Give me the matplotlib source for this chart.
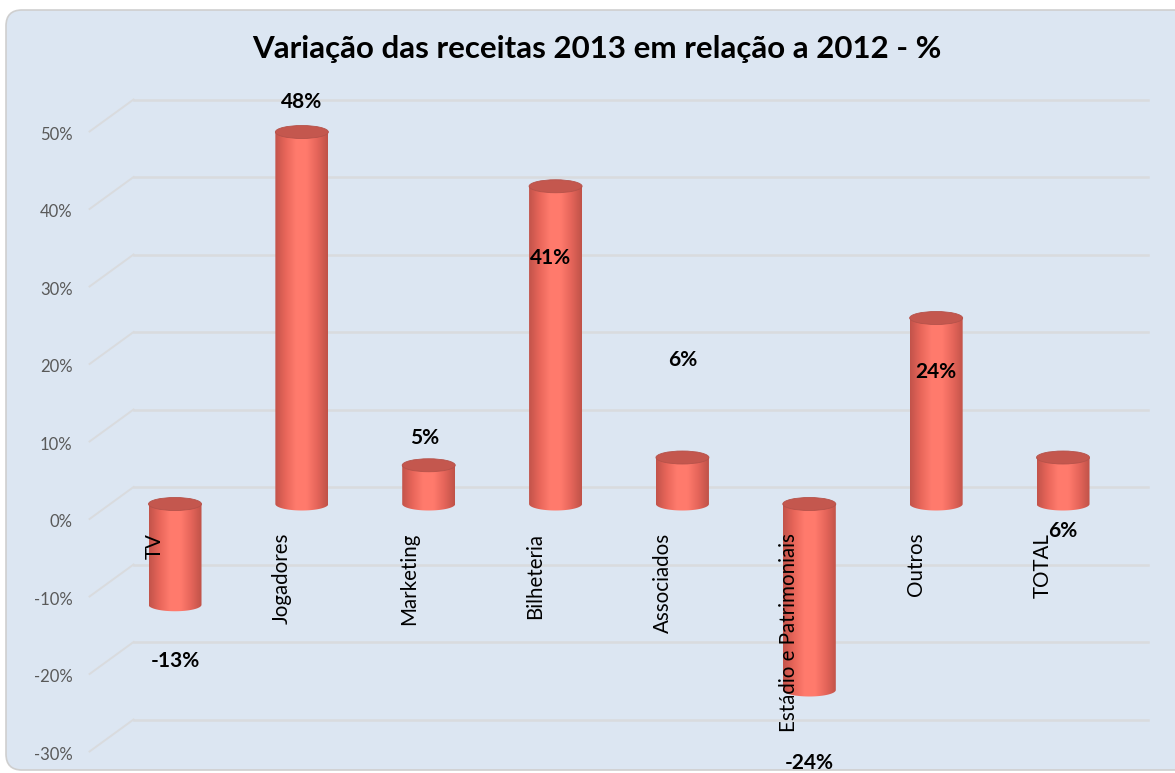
import numpy as np
import matplotlib
matplotlib.use("Agg")
import matplotlib.pyplot as plt
from matplotlib.colors import LinearSegmentedColormap
from matplotlib.patches import Polygon, Ellipse, FancyBboxPatch
from matplotlib.transforms import IdentityTransform

plt.rcParams['font.family'] = ['Lato', 'DejaVu Sans']

# data
categories = ['TV', 'Jogadores', 'Marketing', 'Bilheteria', 'Associados',
              'Estádio e Patrimoniais', 'Outros', 'TOTAL']
values = [-13, 48, 5, 41, 6, -24, 24, 6]
value_labels = ['-13%', '48%', '5%', '41%', '6%', '-24%', '24%', '6%']
ticks = [-30, -20, -10, 0, 10, 20, 30, 40, 50]
tick_labels = ['-30%', '-20%', '-10%', '0%', '10%', '20%', '30%', '40%', '50%']

# where Excel dropped the data labels (in axis units)
label_y = [-20.3, 51.9, 8.5, 31.7, 18.6, -33.4, 17.0, -3.5]
label_dx = [0, 0, -0.03, -0.04, 0, 0, 0, 0]

bg = '#DCE6F2'
grid_c = '#D9DBDE'
body_cmap = LinearSegmentedColormap.from_list(
    'cyl', ['#C2534A', '#E8665A', '#FF7B6D', '#FF7A6C', '#E5655A', '#BF5248'])
top_c = '#C4574E'

W, H = 1175, 773
fig = plt.figure(figsize=(W / 100, H / 100), dpi=100, facecolor='white')

# rounded chart panel
panel = FancyBboxPatch((6, 3), 1200, 760, boxstyle='round,pad=0,rounding_size=16',
                       facecolor=bg, edgecolor='#CFCFCF', linewidth=1.2,
                       transform=IdentityTransform(), zorder=-5)
fig.patches.append(panel)

ax = fig.add_axes([0, 0, 1, 1])
ax.set_axis_off()
ax.patch.set_alpha(0)
ax.set_zorder(2)

# pixel scale: 126.86 px per category, 7.75 px per percent
xpx, ypx = 126.86, 7.75
dx = 22 / xpx          # depth shift, x
back_dy = 17 / ypx     # back wall above bar plane
front_dy = -15 / ypx   # front edge below bar plane

# back wall grid + slanted side lines
for t in ticks:
    ax.plot([-0.5 + dx, 7.5 + dx], [t + back_dy, t + back_dy], color=grid_c, lw=1.8, zorder=1)
    ax.plot([-0.5 - dx, -0.5 + dx], [t + front_dy, t + back_dy], color=grid_c, lw=1.4, zorder=1)

for t, lab in zip(ticks, tick_labels):
    ax.text(-0.5 - dx - 0.135, t + front_dy - 0.4, lab, ha='right', va='center',
            fontsize=12, color='#595959')

# cylinders
w = 53 / xpx
eh = 13 / ypx
grad = np.linspace(0, 1, 256).reshape(1, -1)
for i, v in enumerate(values):
    top, bot = max(v, 0), min(v, 0)
    x0, x1 = i - w / 2, i + w / 2
    im = ax.imshow(grad, extent=[x0, x1, bot - eh, top], cmap=body_cmap,
                   aspect='auto', zorder=3, interpolation='bilinear')
    th = np.linspace(np.pi, 2 * np.pi, 60)
    arc = np.column_stack([i + w / 2 * np.cos(th), bot + eh / 2 * np.sin(th)])
    verts = [(x0, top)] + arc.tolist() + [(x1, top)]
    clip = Polygon(verts, closed=True, transform=ax.transData)
    im.set_clip_path(clip)
    ax.add_patch(Ellipse((i, top), w, eh, facecolor=top_c, edgecolor='#B5524A',
                         lw=0.6, zorder=4))

# category labels
for i, c in enumerate(categories):
    ax.text(i - 20 / xpx, -3.7, c, rotation=90, ha='center', va='top',
            fontsize=14.8, color='black', zorder=5)

# data labels
for i, lab in enumerate(value_labels):
    ax.text(i + label_dx[i], label_y[i], lab, ha='center', va='center',
            fontsize=15, fontweight='bold', color='black', zorder=6)

fig.text(597 / W, 1 - 49 / H, 'Variação das receitas 2013 em relação a 2012 - %',
         ha='center', va='center', fontsize=22.5, fontweight='bold', color='black',
         zorder=3)

ax.set_xlim(-175 / xpx, (W - 175) / xpx)
ax.set_ylim((504 - H) / ypx, 504 / ypx)

fig.savefig('out.png', dpi=100, facecolor='white')
